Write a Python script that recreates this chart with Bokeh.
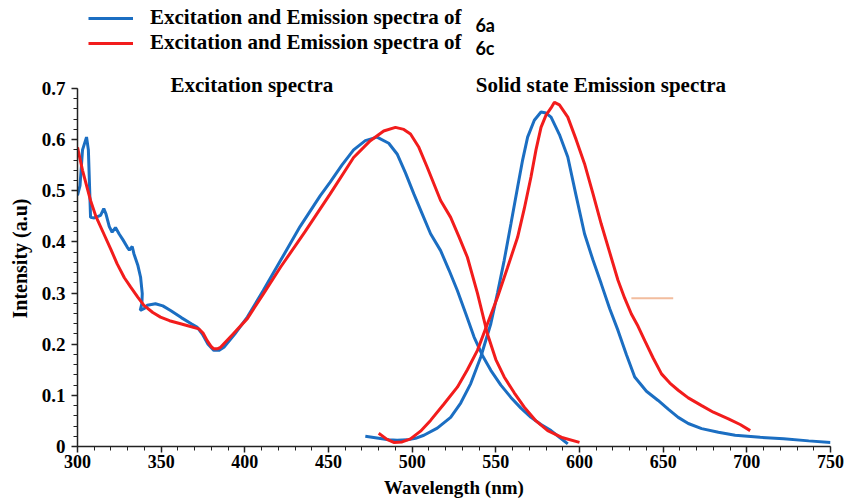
from bokeh.plotting import figure
from bokeh.layouts import column
from bokeh.models import Legend, LegendItem, Label, FixedTicker, Range1d
from bokeh.embed import file_html
from bokeh.resources import INLINE

# ---- data ----
exc_6a_x = [300, 301.5, 303, 305.4, 306.5, 307.8, 310, 313.8, 315.7, 317, 319, 320.7, 322.7, 325, 327,
            329.7, 331, 332.7, 333.7, 336, 337.7, 338.7, 338.5, 337.5, 340, 341.7, 346.6, 351, 355.6,
            362, 368, 371.6, 374.6, 378, 381.5, 384.5, 387.5, 394, 401.5, 411, 421.4, 433, 445, 451,
            458, 465, 472, 479, 486, 491, 496, 501, 506, 511, 517, 522, 527, 532, 537, 542, 547, 553,
            559, 565, 571, 577, 583, 588, 593]
exc_6a_y = [0.491, 0.51, 0.58, 0.605, 0.58, 0.448, 0.447, 0.452, 0.465, 0.455, 0.43, 0.419, 0.428, 0.415,
            0.405, 0.390, 0.384, 0.391, 0.377, 0.355, 0.331, 0.299, 0.28, 0.266, 0.27, 0.276, 0.279,
            0.275, 0.266, 0.252, 0.24, 0.233, 0.220, 0.2, 0.188, 0.188, 0.194, 0.22, 0.253, 0.305,
            0.364, 0.43, 0.49, 0.517, 0.55, 0.58, 0.598, 0.605, 0.593, 0.572, 0.535, 0.494, 0.455,
            0.416, 0.383, 0.345, 0.305, 0.26, 0.214, 0.178, 0.149, 0.12, 0.096, 0.075, 0.057, 0.043,
            0.031, 0.018, 0.005]

exc_6c_x = [300, 303, 307.8, 311, 315.7, 320, 323.7, 328, 331.7, 336, 339.7, 345, 349.6, 355, 361.6,
            367, 372.5, 375, 377.5, 380, 381.5, 383.5, 385.5, 393, 401.5, 411, 421.4, 436, 451, 465,
            475, 483, 490, 495, 499, 504, 509, 517, 523, 528, 533, 539, 545, 550, 555, 561, 567, 574,
            581, 590, 600]
exc_6c_y = [0.585, 0.54, 0.481, 0.45, 0.416, 0.385, 0.357, 0.33, 0.312, 0.292, 0.276, 0.262, 0.253,
            0.246, 0.240, 0.235, 0.230, 0.222, 0.207, 0.195, 0.191, 0.191, 0.194, 0.22, 0.250, 0.298,
            0.351, 0.42, 0.494, 0.565, 0.598, 0.617, 0.624, 0.62, 0.611, 0.585, 0.546, 0.481, 0.448,
            0.41, 0.37, 0.30, 0.22, 0.17, 0.136, 0.105, 0.077, 0.05, 0.031, 0.017, 0.008]

em_6a_x = [472, 480, 486, 491, 497, 502, 507, 515, 523, 529, 535, 541, 547, 551, 555, 559, 563, 566,
           569, 573, 577, 580, 583, 588, 593, 598, 603, 608, 613, 618, 623, 628, 633, 640, 647, 653,
           659, 665, 673, 683, 693, 708, 722, 737, 750]
em_6a_y = [0.020, 0.016, 0.013, 0.012, 0.013, 0.016, 0.022, 0.036, 0.057, 0.085, 0.123, 0.175, 0.240,
           0.30, 0.364, 0.435, 0.507, 0.56, 0.605, 0.638, 0.654, 0.652, 0.644, 0.61, 0.566, 0.49,
           0.416, 0.365, 0.318, 0.27, 0.227, 0.18, 0.136, 0.108, 0.090, 0.073, 0.057, 0.045, 0.035,
           0.028, 0.022, 0.018, 0.015, 0.011, 0.008]

em_6c_x = [480, 485, 489, 494, 499, 505, 511, 519, 527, 533, 539, 545, 551, 557, 563, 567, 571, 574,
           577, 580, 583, 585, 588, 593, 598, 603, 608, 613, 618, 623, 627, 631, 635, 639, 644, 649,
           654, 659, 665, 673, 680, 689, 696, 702]
em_6c_y = [0.026, 0.014, 0.008, 0.009, 0.015, 0.03, 0.051, 0.083, 0.116, 0.15, 0.188, 0.24, 0.292,
           0.35, 0.409, 0.465, 0.527, 0.58, 0.624, 0.648, 0.662, 0.673, 0.668, 0.644, 0.60, 0.553,
           0.495, 0.435, 0.38, 0.325, 0.29, 0.259, 0.235, 0.207, 0.173, 0.142, 0.124, 0.110, 0.095,
           0.080, 0.067, 0.054, 0.043, 0.031]

stray_x = [631, 656]
stray_y = [0.29, 0.29]

x_ticks = [300, 350, 400, 450, 500, 550, 600, 650, 700, 750]
y_ticks = [0, 0.1, 0.2, 0.3, 0.4, 0.5, 0.6, 0.7]

legend_text = "Excitation and Emission spectra of"
compound_a = "6a"
compound_c = "6c"

BLUE = "#1b6ec2"
RED = "#f21c1c"
SERIF = "Liberation Serif"

# ---------------- legend strip (top 70 px) ----------------
# y range in pixels above the strip bottom; the series' own values (< 1) fall below it,
# so their lines only feed the legend swatches.
top = figure(width=846, height=70, output_backend="svg", toolbar_location=None,
             x_range=Range1d(300, 750), y_range=Range1d(10, 80),
             x_axis_location=None, y_axis_location=None,
             min_border_left=77, min_border_right=16, min_border_top=0, min_border_bottom=0)
top.outline_line_color = None
top.grid.grid_line_color = None
lb = top.line(exc_6a_x, exc_6a_y, line_color=BLUE, line_width=3)
lr = top.line(exc_6c_x, exc_6c_y, line_color=RED, line_width=3)
legend = Legend(items=[LegendItem(label=legend_text, renderers=[lb]),
                       LegendItem(label=legend_text, renderers=[lr])],
                location=(11, 15), padding=0, margin=0, spacing=0,
                glyph_width=45, glyph_height=20, label_height=20, label_standoff=17,
                border_line_alpha=0, background_fill_alpha=0,
                label_text_font=SERIF, label_text_font_style="bold",
                label_text_font_size="21px", label_text_color="black")
top.add_layout(legend, "center")
for txt, yy in ((compound_a, 56), (compound_c, 33)):
    top.add_layout(Label(x=537.8, y=yy, text=txt, text_font="Lato", text_font_style="bold",
                         text_font_size="18px", text_baseline="middle", text_align="left",
                         text_color="black"))

# ---------------- main chart ----------------
Y_TOP = 0.7 * 376 / 358

p = figure(width=846, height=430, output_backend="svg", toolbar_location=None,
           x_range=top.x_range, y_range=Range1d(0, Y_TOP),
           min_border_left=77, min_border_right=16, min_border_top=0, min_border_bottom=54)
p.outline_line_color = None
p.grid.grid_line_color = None
p.background_fill_color = "white"

p.line(exc_6a_x, exc_6a_y, line_color=BLUE, line_width=3)
p.line(em_6a_x, em_6a_y, line_color=BLUE, line_width=3)
p.line(exc_6c_x, exc_6c_y, line_color=RED, line_width=3)
p.line(em_6c_x, em_6c_y, line_color=RED, line_width=3)
p.line(stray_x, stray_y, line_color="#f2bd9e", line_width=2)

for ax in (p.xaxis[0], p.yaxis[0]):
    ax.axis_line_color = "#222222"
    ax.axis_line_width = 1.5
    ax.major_tick_line_color = "#222222"
    ax.minor_tick_line_color = "#222222"
    ax.major_tick_line_width = 1.5
    ax.major_tick_in = 0
    ax.major_tick_out = 6
    ax.minor_tick_in = 0
    ax.minor_tick_out = 4
    ax.major_label_text_font = SERIF
    ax.major_label_text_font_style = "bold"
    ax.major_label_text_color = "black"
    ax.axis_label_text_font = SERIF
    ax.axis_label_text_font_style = "bold"
    ax.axis_label_text_color = "black"

p.yaxis.bounds = (0, 0.7)
p.xaxis.ticker = FixedTicker(ticks=x_ticks, minor_ticks=list(range(300, 751, 10)))
p.yaxis.ticker = FixedTicker(ticks=y_ticks, minor_ticks=[i * 0.02 for i in range(36)])
p.yaxis.formatter.use_scientific = False
p.xaxis.major_label_text_font_size = "18px"
p.yaxis.major_label_text_font_size = "19px"
p.xaxis.major_label_standoff = 2
p.yaxis.major_label_standoff = 6
p.xaxis.axis_label = "Wavelength (nm)"
p.yaxis.axis_label = "Intensity (a.u)"
p.xaxis.axis_label_text_font_size = "19px"
p.yaxis.axis_label_text_font_size = "20px"
p.xaxis.axis_label_standoff = 6
p.yaxis.axis_label_standoff = 8

p.add_layout(Label(x=355.6, y=0.706, text="Excitation spectra", text_font=SERIF,
                   text_font_style="bold", text_font_size="21px", text_baseline="middle",
                   text_color="black"))
p.add_layout(Label(x=538, y=0.706, text="Solid state Emission spectra", text_font=SERIF,
                   text_font_style="bold", text_font_size="21px", text_baseline="middle",
                   text_color="black"))

layout = column(top, p, spacing=0)
open("out.html", "w").write(file_html(layout, INLINE))
